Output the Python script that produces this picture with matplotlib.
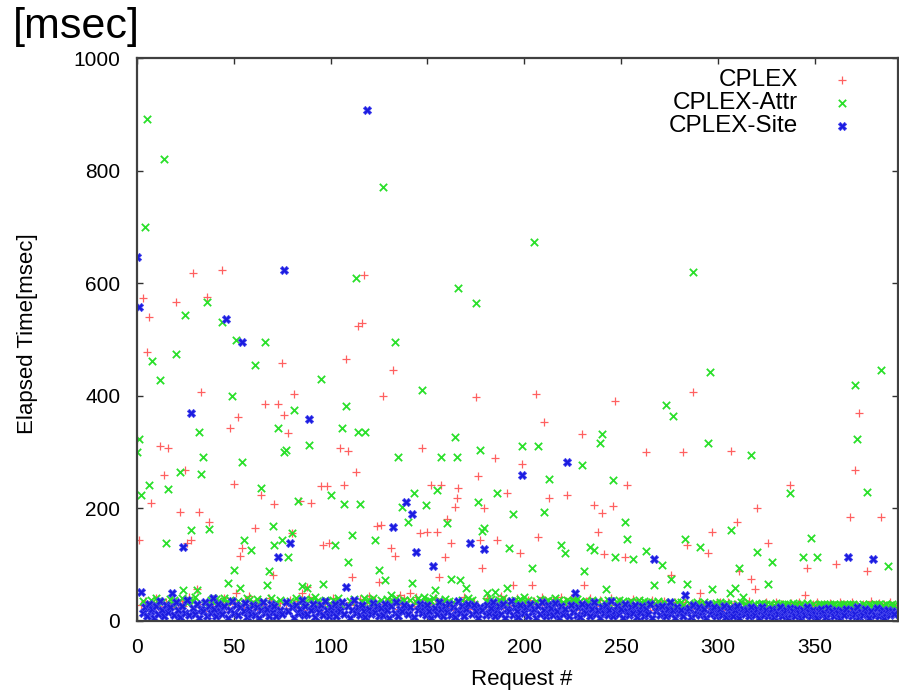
import matplotlib
matplotlib.use("Agg")
import matplotlib.pyplot as plt
import numpy as np

series_names = ["CPLEX", "CPLEX-Attr", "CPLEX-Site"]

cplex = [
    324, 144, 28, 573, 35, 478, 540, 209, 22, 31, 40, 26, 311, 19, 259, 33, 307, 24, 38, 29,
    567, 21, 194, 36, 27, 269, 138, 42, 143, 619, 25, 57, 194, 407, 30, 18, 576, 175, 34, 23,
    39, 27, 20, 33, 623, 41, 24, 30, 343, 36, 243, 50, 362, 115, 129, 22, 38, 28, 44, 19,
    31, 166, 25, 37, 223, 29, 385, 21, 40, 34, 82, 208, 26, 385, 32, 459, 366, 23, 334, 38,
    156, 404, 27, 35, 214, 49, 20, 31, 60, 43, 209, 24, 36, 29, 18, 239, 135, 33, 240, 139,
    26, 41, 22, 37, 30, 307, 25, 241, 465, 302, 34, 78, 28, 265, 524, 39, 530, 614, 21, 32,
    44, 27, 19, 36, 168, 70, 171, 400, 30, 24, 38, 129, 446, 115, 33, 22, 46, 29, 40, 25,
    35, 50, 21, 31, 42, 27, 156, 307, 23, 37, 158, 30, 242, 26, 41, 158, 78, 242, 34, 114,
    181, 28, 139, 20, 203, 218, 236, 36, 25, 43, 31, 22, 38, 27, 33, 398, 258, 144, 95, 200,
    29, 40, 24, 35, 19, 289, 143, 32, 45, 26, 37, 227, 28, 21, 64, 34, 40, 23, 120, 279,
    31, 26, 38, 22, 64, 35, 404, 149, 29, 42, 353, 24, 33, 218, 27, 39, 20, 36, 30, 43,
    25, 34, 223, 28, 41, 21, 37, 26, 32, 19, 333, 64, 35, 23, 41, 30, 206, 27, 158, 38,
    191, 119, 22, 33, 28, 40, 204, 390, 25, 36, 30, 21, 114, 241, 34, 27, 39, 24, 31, 20,
    35, 28, 22, 301, 32, 26, 37, 20, 30, 25, 33, 21, 36, 27, 23, 31, 82, 24, 34, 19,
    29, 22, 301, 33, 135, 26, 21, 407, 30, 24, 35, 49, 20, 28, 32, 120, 23, 158, 27, 31,
    22, 34, 25, 19, 29, 33, 21, 302, 26, 30, 176, 88, 24, 32, 20, 28, 35, 74, 23, 56,
    200, 27, 21, 31, 25, 34, 139, 22, 29, 19, 33, 26, 24, 30, 20, 28, 23, 242, 32, 25,
    21, 29, 34, 24, 19, 46, 94, 27, 22, 31, 25, 33, 20, 28, 23, 30, 26, 19, 32, 24,
    28, 102, 21, 33, 25, 30, 22, 27, 185, 34, 20, 268, 29, 370, 24, 31, 23, 88, 26, 35,
    21, 28, 25, 32, 184, 22, 30, 27, 19, 33, 24, 29,
]

cplex_attr = [
    301, 324, 224, 35, 700, 891, 242, 38, 462, 31, 40, 36, 428, 33, 820, 138, 234, 39, 30, 37,
    474, 34, 265, 41, 55, 543, 32, 38, 162, 35, 42, 55, 335, 261, 292, 31, 567, 163, 37, 40,
    33, 39, 36, 30, 531, 41, 34, 68, 38, 400, 91, 499, 35, 58, 283, 143, 32, 40, 37, 126,
    34, 455, 39, 31, 236, 36, 496, 64, 89, 41, 168, 135, 33, 343, 38, 143, 301, 304, 114, 35,
    157, 375, 40, 214, 32, 62, 37, 34, 58, 313, 39, 31, 42, 36, 33, 429, 66, 38, 35, 30,
    223, 37, 135, 34, 40, 31, 343, 208, 382, 105, 36, 153, 39, 609, 336, 208, 33, 41, 336, 35,
    38, 32, 40, 143, 34, 91, 37, 771, 72, 39, 33, 46, 36, 495, 41, 291, 35, 203, 38, 32,
    176, 37, 68, 227, 34, 40, 36, 411, 43, 206, 33, 38, 35, 41, 55, 233, 37, 291, 32, 39,
    174, 36, 74, 34, 326, 292, 591, 73, 38, 33, 58, 40, 35, 37, 31, 565, 212, 304, 159, 165,
    36, 49, 34, 39, 32, 52, 227, 37, 35, 40, 33, 58, 129, 36, 190, 38, 31, 35, 39, 310,
    43, 34, 37, 32, 94, 674, 36, 310, 39, 33, 194, 35, 38, 252, 31, 36, 40, 34, 37, 135,
    33, 121, 38, 35, 31, 37, 34, 39, 32, 36, 277, 89, 35, 33, 131, 38, 126, 34, 36, 317,
    332, 33, 56, 37, 31, 35, 250, 113, 34, 38, 32, 36, 175, 145, 33, 35, 111, 31, 34, 37,
    32, 30, 35, 124, 33, 29, 34, 64, 31, 36, 30, 100, 33, 384, 29, 32, 74, 364, 31, 34,
    30, 33, 28, 145, 66, 32, 29, 620, 31, 34, 30, 132, 28, 33, 31, 317, 442, 56, 30, 32,
    29, 33, 31, 28, 32, 30, 49, 162, 29, 58, 31, 95, 33, 43, 30, 28, 32, 295, 29, 31,
    122, 30, 28, 32, 29, 31, 66, 30, 104, 28, 32, 29, 31, 27, 30, 28, 31, 227, 29, 32,
    28, 30, 27, 31, 114, 29, 32, 28, 147, 30, 27, 113, 29, 31, 28, 30, 27, 29, 31, 28,
    30, 27, 29, 31, 28, 30, 26, 29, 31, 28, 30, 419, 323, 29, 27, 30, 28, 230, 31, 29,
    27, 30, 28, 31, 446, 29, 27, 30, 98, 28, 31, 29,
]

cplex_site = [
    646, 558, 52, 14, 25, 8, 31, 18, 22, 6, 27, 12, 35, 20, 9, 29, 16, 24, 50, 11,
    33, 19, 7, 26, 131, 15, 38, 10, 369, 23, 13, 30, 5, 21, 17, 34, 9, 27, 14, 40,
    22, 8, 31, 18, 12, 26, 536, 6, 20, 36, 15, 28, 10, 24, 496, 17, 32, 7, 21, 13,
    29, 11, 25, 5, 19, 34, 14, 22, 9, 30, 16, 27, 8, 114, 20, 12, 623, 33, 18, 139,
    24, 6, 28, 15, 21, 37, 10, 26, 13, 359, 19, 31, 7, 23, 16, 29, 11, 35, 20, 8,
    25, 14, 30, 9, 22, 17, 33, 12, 61, 27, 6, 19, 38, 15, 24, 10, 29, 18, 7, 908,
    21, 13, 32, 16, 26, 8, 23, 11, 30, 19, 5, 27, 167, 14, 34, 9, 22, 17, 28, 212,
    12, 25, 190, 7, 123, 20, 31, 15, 24, 10, 29, 18, 6, 98, 23, 13, 33, 21, 9, 27,
    16, 30, 11, 24, 7, 19, 36, 14, 26, 8, 22, 31, 138, 12, 28, 17, 5, 25, 20, 127,
    10, 29, 15, 23, 33, 8, 19, 26, 13, 30, 6, 21, 17, 35, 11, 24, 18, 7, 28, 259,
    14, 25, 9, 31, 16, 22, 6, 27, 12, 34, 19, 8, 29, 15, 23, 10, 32, 18, 5, 26,
    13, 21, 282, 9, 28, 16, 49, 11, 24, 7, 30, 18, 14, 26, 9, 22, 33, 12, 19, 6,
    25, 15, 29, 10, 20, 36, 8, 17, 27, 13, 22, 5, 31, 18, 11, 24, 14, 28, 7, 20,
    16, 26, 9, 21, 13, 30, 6, 111, 18, 24, 11, 27, 15, 8, 22, 33, 12, 19, 5, 25,
    14, 20, 9, 46, 17, 23, 7, 28, 12, 19, 25, 10, 16, 22, 6, 30, 13, 18, 24, 8,
    15, 21, 11, 26, 7, 18, 23, 13, 9, 20, 27, 5, 16, 22, 12, 19, 8, 25, 14, 10,
    21, 6, 17, 24, 11, 19, 9, 15, 22, 7, 18, 13, 25, 8, 16, 20, 5, 23, 12, 17,
    9, 21, 14, 6, 19, 11, 24, 16, 8, 20, 13, 5, 18, 22, 10, 15, 7, 23, 12, 17,
    9, 20, 14, 6, 18, 11, 22, 113, 15, 8, 19, 12, 24, 7, 16, 10, 21, 13, 5, 18,
    111, 11, 23, 8, 16, 20, 6, 14, 19, 10, 17, 12,
]

x_ticks = [0, 50, 100, 150, 200, 250, 300, 350]
y_ticks = [0, 200, 400, 600, 800, 1000]

fig = plt.figure(figsize=(8.99, 6.93), dpi=100)
ax = fig.add_axes([137 / 899, 72 / 693, 761 / 899, 563 / 693])

ax.scatter(np.arange(len(cplex)), cplex, marker="+", s=26, linewidths=0.9,
           color="#ff6060", label=series_names[0], zorder=2)
ax.scatter(np.arange(len(cplex_attr)), cplex_attr, marker="x", s=28, linewidths=1.3,
           color="#2ae02a", label=series_names[1], zorder=3)
ax.scatter(np.arange(len(cplex_site)), cplex_site, marker="X", s=36, linewidths=0.5,
           color="#1c1ce0", edgecolors="#4848ee", label=series_names[2], zorder=4)

ax.set_xlim(0, 393)
ax.set_ylim(0, 1000)
ax.set_xticks(x_ticks)
ax.set_yticks(y_ticks)
ax.set_xticklabels([str(v) for v in x_ticks], fontfamily="Liberation Sans", fontsize=15)
ax.set_yticklabels([str(v) for v in y_ticks], fontfamily="Liberation Sans", fontsize=15)
ax.tick_params(direction="in", length=4, width=1, color="#303030", pad=12,
               top=True, right=True, labeltop=False, labelright=False)

for sp in ax.spines.values():
    sp.set_color("#404040")
    sp.set_linewidth(1.6)
    sp.set_zorder(5)

ax.set_ylabel("Elapsed Time[msec]", fontfamily="Liberation Sans", fontsize=16)
ax.yaxis.set_label_coords(-0.130, 0.51)
ax.set_xlabel("Request #", fontfamily="Liberation Sans", fontsize=16)
ax.xaxis.set_label_coords(0.506, -0.085)

leg = ax.legend(loc="upper right", markerfirst=False, frameon=False,
                prop={"family": "Liberation Sans", "size": 17.5},
                handlelength=1.0, handletextpad=1.3, labelspacing=0.05,
                borderpad=0, borderaxespad=0, scatterpoints=1,
                bbox_to_anchor=(854 / 899, 1 - 69 / 693), bbox_transform=fig.transFigure)

fig.text(13 / 899, 1 - 7 / 693, "[msec]", fontfamily="Liberation Sans", fontsize=31,
         va="top", ha="left")

fig.savefig("out.png", dpi=100)
